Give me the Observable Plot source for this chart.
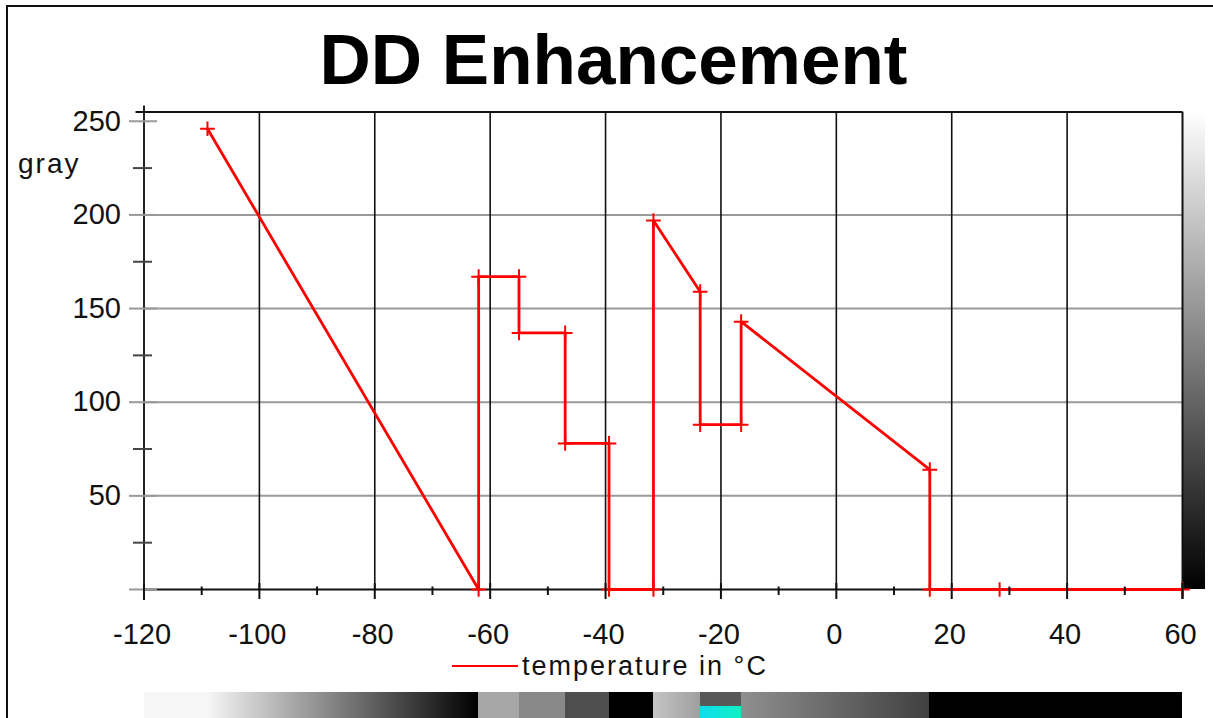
<!DOCTYPE html>
<html><head><meta charset="utf-8">
<script src="https://cdn.jsdelivr.net/npm/d3@7"></script>
<script src="https://cdn.jsdelivr.net/npm/@observablehq/plot@0.6"></script>
<style>
html,body{margin:0;padding:0;background:#fff;width:1213px;height:718px;overflow:hidden;font-family:"Liberation Sans",Arial,sans-serif;}
#wrap{position:relative;width:1213px;height:718px;}
.abs{position:absolute;white-space:nowrap;}
#border{left:6px;top:5px;width:1207px;height:713px;border-left:2px solid #111;border-top:2px solid #111;box-sizing:border-box;}
#title{left:0;top:24px;width:1227px;text-align:center;font-size:71px;line-height:71px;font-weight:bold;color:#000;}
#ylab{left:18px;top:150px;font-size:28px;line-height:28px;letter-spacing:2px;color:#111;}
#legline{left:452px;top:665px;width:66px;height:2px;background:#ff0000;}
#legtext{left:522px;top:656px;font-size:27px;line-height:20px;letter-spacing:2px;color:#111;}
#main{left:0;top:100px;}
#bar{left:0;top:692px;}
</style></head><body><div id="wrap">
<div class="abs" id="border"></div>
<div class="abs" id="title">DD Enhancement</div>
<div class="abs" id="main"></div>
<div class="abs" id="ylab">gray</div>
<div class="abs" id="legline"></div>
<div class="abs" id="legtext">temperature in °C</div>
<div class="abs" id="bar"></div>
</div>
<script>
// ---- data ----
const temps = [-109, -62, -62, -55, -55, -47, -47, -39.4, -39.4, -31.7, -31.7, -23.6, -23.6, -16.5, -16.5, 16.2, 16.2, 28.3, 60];
const grays = [246, 0, 167, 167, 137, 137, 78, 78, 0, 0, 197, 159, 88, 88, 143, 64, 0, 0, 0];
const xTicks = [-120, -100, -80, -60, -40, -20, 0, 20, 40, 60];
const xMinor = [-110, -90, -70, -50, -30, -10, 10, 30, 50];
const yTicks = [0, 50, 100, 150, 200, 250];
const yMinor = [25, 75, 125, 175, 225];
const yGrid = [50, 100, 150, 200];
const xDomain = [-120, 60];
const yDomain = [0, 255];
const selectedSegment = 7;

const points = temps.map((t, i) => ({t, g: grays[i]}));
// colour bar segments derived from the curve
const segments = [{x1: xDomain[0], x2: temps[0], g1: grays[0], g2: grays[0]}];
for (let i = 0; i < temps.length - 1; i++) {
  if (temps[i + 1] > temps[i]) segments.push({x1: temps[i], x2: temps[i + 1], g1: grays[i], g2: grays[i + 1]});
}
segments.forEach((s, i) => s.i = i);

const W = 1213, H = 560, mL = 143.5, mR = 31, mT = 11.4, mB = 71;
const kx = (W - mL - mR) / (xDomain[1] - xDomain[0]);
const ky = (H - mT - mB) / (yDomain[1] - yDomain[0]);
const font = '"Liberation Sans", Arial, sans-serif';
const grayCss = g => `rgb(${g},${g},${g})`;

const main = Plot.plot({
  width: W, height: H, marginLeft: mL, marginRight: mR, marginTop: mT, marginBottom: mB,
  x: {domain: xDomain, axis: null},
  y: {domain: yDomain, axis: null},
  style: {background: "transparent", overflow: "visible", fontFamily: font},
  marks: [
    Plot.ruleY(yGrid, {x1: xDomain[0], x2: xDomain[1], stroke: "#9a9a9a", strokeWidth: 2}),
    Plot.ruleX(xTicks.filter(v => v > xDomain[0] && v < xDomain[1]), {y1: 0, y2: 255, stroke: "#111", strokeWidth: 1.6}),
    Plot.rect([0], {x1: xDomain[1], x2: xDomain[1] + 23 / kx, y1: 0, y2: 255, fill: "url(#vramp)"}),
    Plot.ruleY([255], {x1: xDomain[0] - 8 / kx, x2: xDomain[1], stroke: "#111", strokeWidth: 2}),
    Plot.ruleX([xDomain[1]], {y1: -10 / ky, y2: 255, stroke: "#111", strokeWidth: 2}),
    Plot.ruleY([0], {x1: xDomain[0], x2: xDomain[1], stroke: "#111", strokeWidth: 2}),
    Plot.ruleX([xDomain[0]], {y1: -11 / ky, y2: 255 + 6 / ky, stroke: "#222", strokeWidth: 2}),
    Plot.ruleY(yTicks, {x1: xDomain[0] - 14.5 / kx, x2: xDomain[0] + 13.5 / kx, stroke: "#999", strokeWidth: 2}),
    Plot.ruleY(yMinor, {x1: xDomain[0] - 10.5 / kx, x2: xDomain[0] + 8.5 / kx, stroke: "#444", strokeWidth: 2}),
    Plot.line(points, {x: "t", y: "g", stroke: "#ff0000", strokeWidth: 2.8}),
    Plot.dot(points, {x: "t", y: "g", symbol: "plus", r: 4.8, stroke: "#ff0000", strokeWidth: 2}),
    Plot.ruleX(xTicks, {y1: -10 / ky, y2: 6 / ky, stroke: "#111", strokeWidth: 2}),
    Plot.ruleX(xMinor, {y1: -6 / ky, y2: 2.5 / ky, stroke: "#111", strokeWidth: 2}),
    Plot.text(yTicks.filter(v => v > 0), {x: xDomain[0], y: d => d, dx: -23, textAnchor: "end", text: d => String(d), fontSize: 29, fill: "#111"}),
    Plot.text(xTicks, {x: d => d, y: 0, dy: 45, dx: -2, text: d => String(d), fontSize: 29, fill: "#111"})
  ]
});

const bar = Plot.plot({
  width: W, height: 30, marginLeft: mL, marginRight: mR, marginTop: 0, marginBottom: 0,
  x: {domain: xDomain, axis: null},
  color: {type: "identity"},
  style: {background: "transparent"},
  marks: [
    Plot.rect(segments, {x1: "x1", x2: "x2", fill: d => `url(#seg${d.i})`, shapeRendering: "crispEdges"}),
    Plot.rect([segments[selectedSegment]], {x1: "x1", x2: "x2", insetTop: 14, fill: "url(#cyan)", shapeRendering: "crispEdges"})
  ]
});

const ns = "http://www.w3.org/2000/svg";
function grad(defs, id, stops, vertical) {
  const lg = document.createElementNS(ns, "linearGradient");
  lg.setAttribute("id", id);
  lg.setAttribute("x1", "0"); lg.setAttribute("y1", "0");
  lg.setAttribute("x2", vertical ? "0" : "1"); lg.setAttribute("y2", vertical ? "1" : "0");
  stops.forEach(([o, c]) => {
    const s = document.createElementNS(ns, "stop");
    s.setAttribute("offset", o); s.setAttribute("stop-color", c);
    lg.appendChild(s);
  });
  defs.appendChild(lg);
}
const d1 = document.createElementNS(ns, "defs");
grad(d1, "vramp", [[0, grayCss(yDomain[1])], [1, grayCss(yDomain[0])]], true);
main.insertBefore(d1, main.firstChild);
const d2 = document.createElementNS(ns, "defs");
segments.forEach(s => grad(d2, `seg${s.i}`, [[0, grayCss(s.g1)], [1, grayCss(s.g2)]], false));
grad(d2, "cyan", [[0, "#10dcec"], [1, "#10f0c4"]], false);
bar.insertBefore(d2, bar.firstChild);

document.getElementById("main").appendChild(main);
document.getElementById("bar").appendChild(bar);
</script>
</body></html>
